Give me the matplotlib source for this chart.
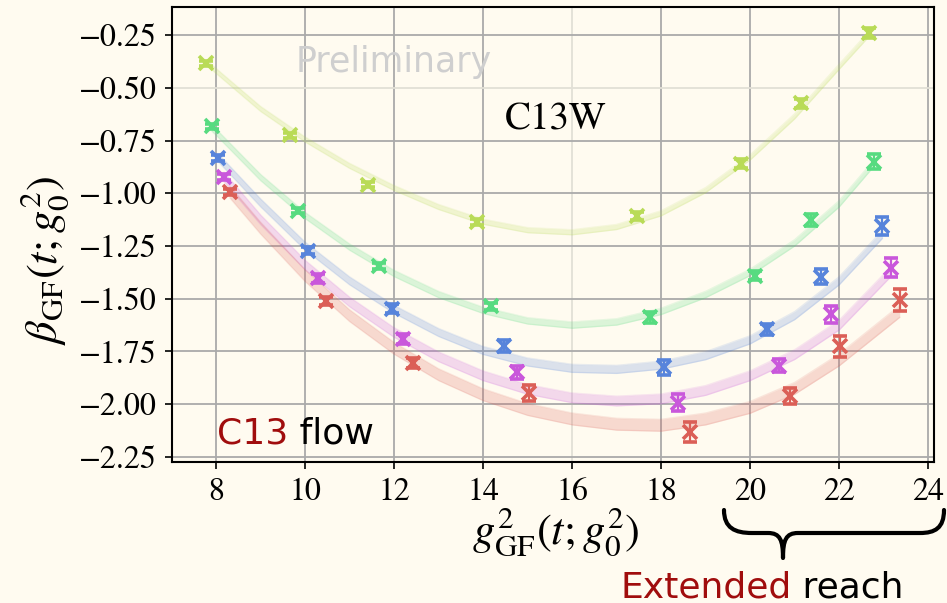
import numpy as np
import matplotlib
matplotlib.use("Agg")
import matplotlib.pyplot as plt
from matplotlib.path import Path
from matplotlib.patches import PathPatch

# ---------------- data ----------------
colors = ["#b9db57", "#57db80", "#5784db", "#c957db", "#db5f57"]

gsq_1 = [7.78, 9.66, 11.42, 13.87, 17.46, 19.80, 21.15, 22.67]
beta_1 = [-0.383, -0.726, -0.960, -1.136, -1.107, -0.860, -0.574, -0.240]
err_1 = [0.012, 0.012, 0.012, 0.014, 0.018, 0.022, 0.022, 0.022]

gsq_2 = [7.90, 9.85, 11.67, 14.17, 17.75, 20.10, 21.36, 22.79]
beta_2 = [-0.682, -1.082, -1.344, -1.536, -1.587, -1.391, -1.126, -0.851]
err_2 = [0.012, 0.013, 0.015, 0.018, 0.026, 0.022, 0.028, 0.036]

gsq_3 = [8.05, 10.07, 11.95, 14.48, 18.07, 20.37, 21.59, 22.97]
beta_3 = [-0.832, -1.272, -1.547, -1.726, -1.825, -1.645, -1.396, -1.155]
err_3 = [0.014, 0.017, 0.020, 0.028, 0.035, 0.026, 0.036, 0.042]

gsq_4 = [8.18, 10.28, 12.20, 14.76, 18.37, 20.64, 21.81, 23.17]
beta_4 = [-0.923, -1.404, -1.690, -1.849, -1.994, -1.817, -1.574, -1.353]
err_4 = [0.015, 0.020, 0.024, 0.032, 0.040, 0.030, 0.040, 0.045]

gsq_5 = [8.31, 10.47, 12.43, 15.02, 18.64, 20.90, 22.02, 23.36]
beta_5 = [-0.994, -1.510, -1.804, -1.948, -2.131, -1.960, -1.726, -1.507]
err_5 = [0.015, 0.020, 0.024, 0.037, 0.048, 0.037, 0.048, 0.053]

# fit bands (centre curve)
band_x_1 = [7.78, 8, 9, 10, 11, 12, 13, 14, 15, 16, 17, 18, 19, 20, 21, 22, 22.67]
band_y_1 = [-0.38, -0.42, -0.60, -0.745, -0.87, -0.975, -1.065, -1.135, -1.175,
            -1.185, -1.16, -1.095, -0.985, -0.83, -0.635, -0.40, -0.245]
band_x_2 = [7.90, 8, 9, 10, 11, 12, 13, 14, 15, 16, 17, 18, 19, 20, 21, 22, 22.79]
band_y_2 = [-0.69, -0.71, -0.925, -1.105, -1.255, -1.38, -1.48, -1.555, -1.605,
            -1.625, -1.61, -1.56, -1.48, -1.375, -1.235, -1.05, -0.855]
band_x_3 = [8.05, 9, 10, 11, 12, 13, 14, 15, 16, 17, 18, 19, 20, 21, 22, 22.97]
band_y_3 = [-0.832, -1.045, -1.25, -1.415, -1.55, -1.66, -1.745, -1.80, -1.83,
            -1.835, -1.815, -1.77, -1.695, -1.58, -1.415, -1.195]
band_x_4 = [8.18, 9, 10, 11, 12, 13, 14, 15, 16, 17, 18, 19, 20, 21, 22, 23.17]
band_y_4 = [-0.923, -1.125, -1.34, -1.515, -1.66, -1.775, -1.865, -1.93, -1.97,
            -1.985, -1.975, -1.935, -1.865, -1.765, -1.625, -1.37]
band_x_5 = [8.31, 9, 10, 11, 12, 13, 14, 15, 16, 17, 18, 19, 20, 21, 22, 23.36]
band_y_5 = [-0.994, -1.165, -1.39, -1.58, -1.735, -1.86, -1.955, -2.025, -2.07,
            -2.095, -2.10, -2.07, -2.015, -1.925, -1.79, -1.56]
band_halfwidth = [0.012, 0.015, 0.019, 0.023, 0.028]

xticks = [8, 10, 12, 14, 16, 18, 20, 22, 24]
yticks = [-0.25, -0.50, -0.75, -1.00, -1.25, -1.50, -1.75, -2.00, -2.25]

series = [
    (gsq_1, beta_1, err_1, band_x_1, band_y_1),
    (gsq_2, beta_2, err_2, band_x_2, band_y_2),
    (gsq_3, beta_3, err_3, band_x_3, band_y_3),
    (gsq_4, beta_4, err_4, band_x_4, band_y_4),
    (gsq_5, beta_5, err_5, band_x_5, band_y_5),
]

# ---------------- figure ----------------
W, H = 947, 603
bg = "#fffbf0"
plt.rcParams["mathtext.fontset"] = "stix"
plt.rcParams["font.family"] = ["STIXGeneral", "DejaVu Serif"]

fig = plt.figure(figsize=(W / 100, H / 100), dpi=100, facecolor=bg)
ax = fig.add_axes([172 / W, 1 - 462 / H, (934 - 172) / W, (462 - 7) / H])
ax.set_facecolor(bg)

for (gx, by, be, bx, bm), c, hw in zip(series, colors, band_halfwidth):
    bx = np.asarray(bx)
    bm = np.asarray(bm)
    ax.fill_between(bx, bm - hw, bm + hw, color=c, alpha=0.21, lw=0, zorder=2)
    ax.plot(bx, bm - hw, color=c, alpha=0.14, lw=1.0, zorder=2)
    ax.plot(bx, bm + hw, color=c, alpha=0.14, lw=1.0, zorder=2)
    ax.errorbar(gx, by, yerr=be, fmt="x", color=c, ms=10, mew=2.6,
                elinewidth=1.6, capsize=5, capthick=1.6, zorder=4)

ax.set_xlim(7.01, 24.13)
ax.set_ylim(-2.274, -0.117)
ax.set_xticks(xticks)
ax.set_yticks(yticks)
ax.set_xticklabels([str(t) for t in xticks])
ax.set_yticklabels([f"{t:.2f}".replace("-", "\u2212") for t in yticks])
ax.tick_params(axis="both", direction="out", length=5, width=1.2,
               labelsize=23, pad=6)
ax.grid(True, color="#aaaaaa", lw=1.3, zorder=0)
ax.set_axisbelow(True)
# lighter grid lines at x=16 and y=-0.5 as in the reference
ax.get_xgridlines()[xticks.index(16)].set_color("#e2e0d6")
ax.get_ygridlines()[yticks.index(-0.50)].set_color("#e2e0d6")
for sp in ax.spines.values():
    sp.set_linewidth(1.5)
    sp.set_color("black")

# axis labels
fig.text(556 / W, 1 - 532 / H, r"$g^2_{\mathrm{GF}}(t;g^2_0)$", fontsize=32,
         ha="center", va="center")
fig.text(45 / W, 1 - 260 / H, r"$\beta_{\mathrm{GF}}(t;g^2_0)$", fontsize=32,
         ha="center", va="center", rotation=90)

# annotations
sans = ["DejaVu Sans"]
fig.text(394 / W, 1 - 62 / H, "Preliminary", fontsize=25, color="#cfcfcf",
         ha="center", va="center", family=sans)
fig.text(556 / W, 1 - 120 / H, "C13W", fontsize=28, color="black",
         ha="center", va="center")

darkred = "#a00d0d"
t1 = fig.text(217 / W, 1 - 443 / H, "C13", fontsize=26, color=darkred,
              ha="left", va="baseline", family=sans)
ax.annotate(" flow", xy=(1, 0), xycoords=t1, fontsize=26, color="black",
            ha="left", va="bottom", family=sans, annotation_clip=False)

t2 = fig.text(620 / W, 1 - 597 / H, "Extended", fontsize=26, color=darkred,
              ha="left", va="baseline", family=sans)
ax.annotate(" reach", xy=(1, 0), xycoords=t2, fontsize=26, color="black",
            ha="left", va="bottom", family=sans, annotation_clip=False)

# curly brace (figure pixel coordinates)
pts = [
    (724, 510),
    (724, 528), (735, 533), (752, 533),
    (768, 533),
    (780, 533), (783, 540), (783, 558),
    (783, 540), (786, 533), (798, 533),
    (920, 533),
    (935, 533), (944, 528), (944, 510),
]
codes = [Path.MOVETO,
         Path.CURVE4, Path.CURVE4, Path.CURVE4,
         Path.LINETO,
         Path.CURVE4, Path.CURVE4, Path.CURVE4,
         Path.CURVE4, Path.CURVE4, Path.CURVE4,
         Path.LINETO,
         Path.CURVE4, Path.CURVE4, Path.CURVE4]
fpts = [(x / W, 1 - y / H) for x, y in pts]
brace = PathPatch(Path(fpts, codes), transform=fig.transFigure, fill=False,
                  lw=3.0, edgecolor="black", capstyle="round", joinstyle="round")
fig.patches.append(brace)

fig.savefig("out.png", dpi=100, facecolor=bg)
